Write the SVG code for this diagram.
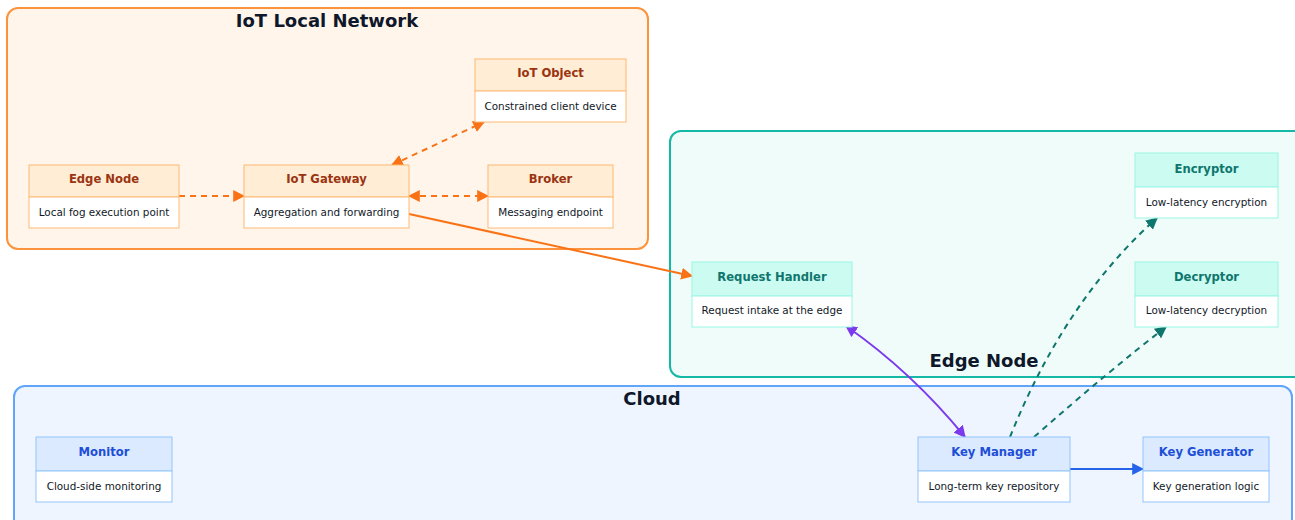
<svg xmlns="http://www.w3.org/2000/svg" width="1295" height="520" viewBox="0 0 1295 520">
  <defs>
    <style>
      text { font-family: "DejaVu Sans", "Liberation Sans", sans-serif; }
      .zone-title { font-size: 18px; font-weight: bold; fill: #0f172a; text-anchor: middle; }
      .nt { font-size: 11.6px; font-weight: bold; text-anchor: middle; }
      .nb { font-size: 10.4px; fill: #111827; text-anchor: middle; }
      .body { fill: #ffffff; }
      .iot .hd { fill: #ffedd5; }
      .iot rect { stroke: #fdba74; stroke-width: 1; }
      .iot .nt { fill: #9a3412; }
      .edge .hd { fill: #ccfbf1; }
      .edge rect { stroke: #99f6e4; stroke-width: 1; }
      .edge .nt { fill: #0f766e; }
      .cloud .hd { fill: #dbeafe; }
      .cloud rect { stroke: #93c5fd; stroke-width: 1; }
      .cloud .nt { fill: #1d4ed8; }
      .c { fill: none; stroke-width: 2; }
      .dash { stroke-dasharray: 6 5; }
    </style>
    <marker id="ah-or" viewBox="0 0 10 10" refX="9" refY="5" markerWidth="12" markerHeight="12" orient="auto-start-reverse" markerUnits="userSpaceOnUse">
      <path d="M0,0 L10,5 L0,10 z" fill="#f97316"/>
    </marker>
    <marker id="ah-te" viewBox="0 0 10 10" refX="9" refY="5" markerWidth="12" markerHeight="12" orient="auto-start-reverse" markerUnits="userSpaceOnUse">
      <path d="M0,0 L10,5 L0,10 z" fill="#0f766e"/>
    </marker>
    <marker id="ah-pu" viewBox="0 0 10 10" refX="9" refY="5" markerWidth="12" markerHeight="12" orient="auto-start-reverse" markerUnits="userSpaceOnUse">
      <path d="M0,0 L10,5 L0,10 z" fill="#7c3aed"/>
    </marker>
    <marker id="ah-bl" viewBox="0 0 10 10" refX="9" refY="5" markerWidth="12" markerHeight="12" orient="auto-start-reverse" markerUnits="userSpaceOnUse">
      <path d="M0,0 L10,5 L0,10 z" fill="#2563eb"/>
    </marker>
  </defs>

  <rect width="1295" height="520" fill="#ffffff"/>

  <!-- zones -->
  <g id="zone-iot">
    <rect x="7" y="8" width="641" height="241" rx="11" fill="#fff5eb" stroke="#fb923c" stroke-width="2"/>
    <text class="zone-title" x="327" y="27">IoT Local Network</text>
  </g>
  <g id="zone-edge">
    <rect x="670" y="131" width="640" height="246" rx="11" fill="#effcf9" stroke="#14b8a6" stroke-width="2"/>
    <text class="zone-title" x="984" y="367">Edge Node</text>
  </g>
  <g id="zone-cloud">
    <rect x="14" y="386" width="1278" height="150" rx="11" fill="#eef5ff" stroke="#60a5fa" stroke-width="2"/>
    <text class="zone-title" x="652" y="405">Cloud</text>
  </g>

  <!-- connectors -->
  <g id="connectors">
    <path class="c dash" stroke="#f97316" d="M179,196 L244,196" marker-end="url(#ah-or)"/>
    <path class="c dash" stroke="#f97316" d="M409,196 L488,196" marker-start="url(#ah-or)" marker-end="url(#ah-or)"/>
    <path class="c dash" stroke="#f97316" d="M392,165 L484,122" marker-start="url(#ah-or)" marker-end="url(#ah-or)"/>
    <path class="c" stroke="#f97316" d="M409,214 L692,276" marker-end="url(#ah-or)"/>
    <path class="c" stroke="#7c3aed" d="M846,326 Q912,372 965,437" marker-start="url(#ah-pu)" marker-end="url(#ah-pu)"/>
    <path class="c dash" stroke="#0f766e" d="M1010,437 Q1065,300 1157,218" marker-end="url(#ah-te)"/>
    <path class="c dash" stroke="#0f766e" d="M1034,437 Q1110,370 1166,327" marker-end="url(#ah-te)"/>
    <path class="c" stroke="#2563eb" d="M1070,469 L1143,469" marker-end="url(#ah-bl)"/>
  </g>

  <!-- IoT local network nodes -->
  <g id="iot-object" class="iot">
    <rect class="hd" x="475" y="59" width="151" height="32"/>
    <rect class="body" x="475" y="91" width="151" height="31"/>
    <text class="nt" x="550.5" y="77">IoT Object</text>
    <text class="nb" x="550.5" y="110">Constrained client device</text>
  </g>
  <g id="edge-node-local" class="iot">
    <rect class="hd" x="29" y="165" width="150" height="32"/>
    <rect class="body" x="29" y="197" width="150" height="31"/>
    <text class="nt" x="104" y="183">Edge Node</text>
    <text class="nb" x="104" y="216">Local fog execution point</text>
  </g>
  <g id="iot-gateway" class="iot">
    <rect class="hd" x="244" y="165" width="165" height="32"/>
    <rect class="body" x="244" y="197" width="165" height="31"/>
    <text class="nt" x="326.5" y="183">IoT Gateway</text>
    <text class="nb" x="326.5" y="216">Aggregation and forwarding</text>
  </g>
  <g id="broker" class="iot">
    <rect class="hd" x="488" y="165" width="125" height="32"/>
    <rect class="body" x="488" y="197" width="125" height="31"/>
    <text class="nt" x="550.5" y="183">Broker</text>
    <text class="nb" x="550.5" y="216">Messaging endpoint</text>
  </g>

  <!-- Edge node components -->
  <g id="request-handler" class="edge">
    <rect class="hd" x="692" y="262" width="160" height="34"/>
    <rect class="body" x="692" y="296" width="160" height="31"/>
    <text class="nt" x="772" y="281">Request Handler</text>
    <text class="nb" x="772" y="314">Request intake at the edge</text>
  </g>
  <g id="encryptor" class="edge">
    <rect class="hd" x="1135" y="153" width="143" height="34"/>
    <rect class="body" x="1135" y="187" width="143" height="31"/>
    <text class="nt" x="1206.5" y="173">Encryptor</text>
    <text class="nb" x="1206.5" y="206">Low-latency encryption</text>
  </g>
  <g id="decryptor" class="edge">
    <rect class="hd" x="1135" y="262" width="143" height="34"/>
    <rect class="body" x="1135" y="296" width="143" height="31"/>
    <text class="nt" x="1206.5" y="281">Decryptor</text>
    <text class="nb" x="1206.5" y="314">Low-latency decryption</text>
  </g>

  <!-- Cloud components -->
  <g id="monitor" class="cloud">
    <rect class="hd" x="36" y="437" width="136" height="34"/>
    <rect class="body" x="36" y="471" width="136" height="31"/>
    <text class="nt" x="104" y="456">Monitor</text>
    <text class="nb" x="104" y="490">Cloud-side monitoring</text>
  </g>
  <g id="key-manager" class="cloud">
    <rect class="hd" x="918" y="437" width="152" height="34"/>
    <rect class="body" x="918" y="471" width="152" height="31"/>
    <text class="nt" x="994" y="456">Key Manager</text>
    <text class="nb" x="994" y="490">Long-term key repository</text>
  </g>
  <g id="key-generator" class="cloud">
    <rect class="hd" x="1143" y="437" width="126" height="34"/>
    <rect class="body" x="1143" y="471" width="126" height="31"/>
    <text class="nt" x="1206" y="456">Key Generator</text>
    <text class="nb" x="1206" y="490">Key generation logic</text>
  </g>
</svg>
